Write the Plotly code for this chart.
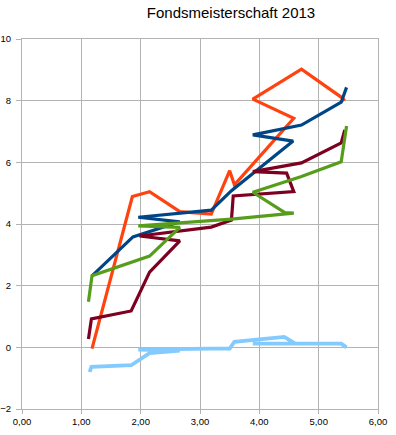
import plotly.graph_objects as go

title_text = "Fondsmeisterschaft 2013"

orange_x = [1.18, 1.86, 2.15, 2.66, 3.19, 3.50, 3.58, 4.58, 3.89, 4.71, 5.39, 5.44]
orange_y = [-0.04, 4.89, 5.05, 4.40, 4.32, 5.73, 5.27, 7.43, 8.05, 9.02, 8.10, 8.00]

blue_x = [1.18, 1.87, 2.66, 1.96, 3.19, 3.53, 4.57, 3.89, 4.71, 5.38, 5.47]
blue_y = [2.32, 3.58, 4.07, 4.22, 4.45, 5.08, 6.69, 6.89, 7.21, 7.95, 8.43]

darkred_x = [1.12, 1.17, 1.84, 2.15, 2.66, 1.98, 3.19, 3.53, 3.56, 4.58, 4.46, 3.89, 4.71, 5.38, 5.44]
darkred_y = [0.27, 0.92, 1.18, 2.44, 3.45, 3.61, 3.90, 4.13, 4.91, 5.05, 5.65, 5.70, 5.98, 6.63, 7.05]

green_x = [1.12, 1.18, 2.15, 2.66, 1.96, 3.19, 3.53, 4.58, 4.43, 3.89, 4.71, 5.38, 5.47]
green_y = [1.48, 2.32, 2.96, 3.89, 3.94, 4.10, 4.16, 4.35, 4.37, 5.03, 5.54, 6.02, 7.18]

lightblue_x = [1.14, 1.17, 1.84, 2.15, 2.66, 1.96, 3.19, 3.50, 3.58, 4.42, 4.60, 3.89, 4.71, 5.38, 5.47]
lightblue_y = [-0.80, -0.63, -0.58, -0.19, -0.11, -0.07, -0.04, -0.04, 0.18, 0.34, 0.13, 0.12, 0.13, 0.12, 0.00]

x_ticks = [0, 1, 2, 3, 4, 5, 6]
y_ticks = [-2, 0, 2, 4, 6, 8, 10]

series = [
    (orange_x, orange_y, "#ff420e", 3.2),
    (blue_x, blue_y, "#004586", 3.2),
    (darkred_x, darkred_y, "#7e0021", 3.2),
    (green_x, green_y, "#579d1c", 3.2),
    (lightblue_x, lightblue_y, "#83caff", 3.8),
]

fig = go.Figure()
for xs, ys, col, w in series:
    fig.add_trace(go.Scatter(x=xs, y=ys, mode="lines",
                             line=dict(color=col, width=w),
                             showlegend=False, hoverinfo="skip"))

grid = "#b3b3b3"
fig.update_layout(
    width=396, height=435,
    margin=dict(l=22, r=18, t=39, b=26),
    paper_bgcolor="white", plot_bgcolor="white",
    separators=",.",
    font=dict(family="Liberation Sans, Arial, sans-serif", color="#000000"),
    title=dict(text=title_text, x=231/396, xref="container", xanchor="center",
               y=1 - 13/435, yref="container", yanchor="middle",
               font=dict(size=15, color="#000000")),
)
fig.update_xaxes(range=[0, 6], tickvals=x_ticks, tickformat=".2f", automargin=False,
                 showgrid=True, gridcolor=grid, gridwidth=1,
                 zeroline=False, showline=True, linecolor=grid, linewidth=1, mirror=True,
                 ticks="outside", ticklen=4, tickcolor=grid,
                 tickfont=dict(size=9.5))
fig.update_yaxes(range=[-2, 10], tickvals=y_ticks, automargin=False,
                 showgrid=True, gridcolor=grid, gridwidth=1,
                 zeroline=False, showline=True, linecolor=grid, linewidth=1, mirror=True,
                 ticks="outside", ticklen=5, tickcolor=grid, ticklabelstandoff=3,
                 tickfont=dict(size=9.5))

fig.write_html("out.html")
